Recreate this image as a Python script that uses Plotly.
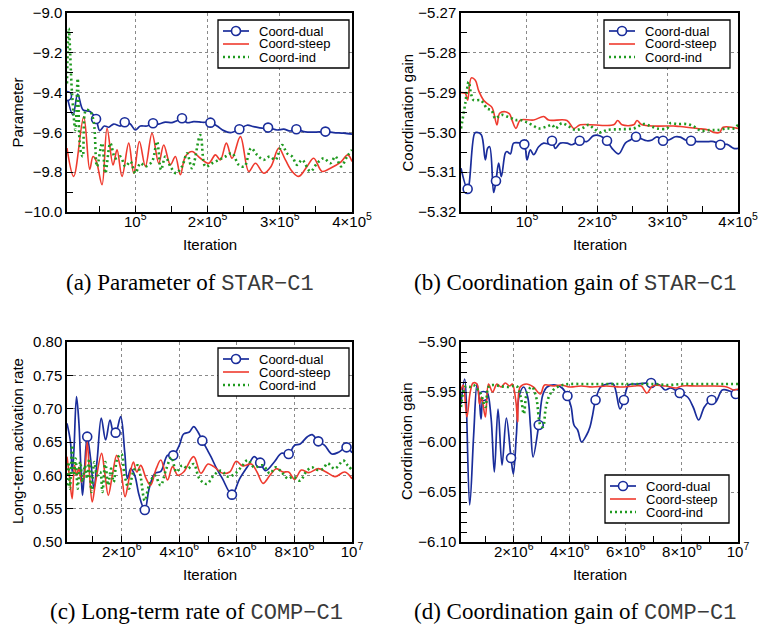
import plotly.graph_objects as go

W, H = 760, 630
BLUE = "#1a2d9b"
RED = "#ef3a2e"
GREEN = "#1f9a1f"
SANS = "Liberation Sans, Arial, Helvetica, sans-serif"
SERIF = "Liberation Serif, Times New Roman, serif"
MONO = "Liberation Mono, Courier New, monospace"

# ---------------- Panel (a): Parameter of STAR-C1 ----------------
a_dual_x = [5500, 13800, 20300, 27700, 37800, 45700, 50800, 57200, 63200, 70100, 79400, 85400, 93200, 100100,
            107100, 116300, 124600, 132400, 141700, 150900, 157800, 164700, 171700, 180900, 192400, 204000,
            213200, 222400, 231700, 244100, 254700, 264000, 275500, 283800, 296300, 305500, 314700, 323000,
            333200, 347000, 363200, 374700, 388600, 400000]
a_dual_y = [-9.417, -9.513, -9.407, -9.487, -9.496, -9.533, -9.591, -9.568, -9.574, -9.558, -9.568, -9.549,
            -9.558, -9.588, -9.568, -9.568, -9.554, -9.558, -9.548, -9.551, -9.541, -9.529, -9.551, -9.546,
            -9.549, -9.551, -9.568, -9.591, -9.601, -9.584, -9.564, -9.571, -9.579, -9.576, -9.588, -9.584,
            -9.593, -9.584, -9.596, -9.599, -9.596, -9.601, -9.604, -9.609]
a_dual_marks = [0, 5, 11, 16, 21, 25, 29, 33, 37, 40]
a_steep_x = [5500, 14770, 28610, 36920, 41540, 46150, 54000, 60920, 69230, 74760, 81690, 90920, 97840, 105700,
             114000, 123200, 132500, 139400, 148600, 155500, 162400, 169400, 178600, 190100, 201700, 210900,
             217800, 226100, 234000, 245500, 257100, 266300, 277800, 288000, 298600, 307800, 317100, 326300,
             337800, 347000, 358600, 370100, 384000, 394100, 400000]
a_steep_y = [-9.679, -9.821, -9.521, -9.785, -9.721, -9.746, -9.863, -9.579, -9.763, -9.688, -9.821, -9.654,
             -9.805, -9.646, -9.771, -9.604, -9.755, -9.663, -9.763, -9.721, -9.813, -9.721, -9.696, -9.730,
             -9.755, -9.713, -9.738, -9.654, -9.730, -9.621, -9.796, -9.755, -9.805, -9.771, -9.679, -9.738,
             -9.796, -9.821, -9.771, -9.730, -9.796, -9.780, -9.751, -9.713, -9.746]
a_ind_x = [5500, 7850, 12460, 17080, 20310, 24000, 27230, 31840, 37840, 42460, 47070, 54000, 58610, 65530,
           72460, 79380, 86300, 93220, 100100, 107100, 114000, 123200, 130100, 135700, 141700, 148600, 156400,
           164800, 171700, 178600, 190100, 197100, 206300, 215500, 224800, 234000, 243200, 251100, 260300,
           268600, 277800, 286100, 294000, 303200, 310100, 317100, 324000, 330900, 342400, 351700, 360900,
           370100, 377000, 384900, 393200, 400000]
a_ind_y = [-9.354, -9.078, -9.404, -9.588, -9.329, -9.688, -9.721, -9.487, -9.496, -9.546, -9.771, -9.654,
           -9.805, -9.654, -9.730, -9.721, -9.771, -9.746, -9.805, -9.755, -9.771, -9.746, -9.646, -9.788,
           -9.721, -9.771, -9.805, -9.771, -9.705, -9.780, -9.613, -9.771, -9.755, -9.738, -9.721, -9.705,
           -9.763, -9.771, -9.679, -9.713, -9.738, -9.721, -9.738, -9.663, -9.705, -9.721, -9.763, -9.738,
           -9.796, -9.755, -9.730, -9.755, -9.721, -9.771, -9.721, -9.688]

# ---------------- Panel (b): Coordination gain of STAR-C1 ----------------
b_dual_x = [6200, 15640, 25600, 28910, 35080, 40760, 44080, 46930, 52610, 55930, 59720, 63520, 69200, 71570,
            76310, 81050, 90530, 96220, 100000, 104750, 109500, 116600, 123700, 130800, 135600, 140300, 147400,
            156900, 164000, 174900, 185300, 194800, 204300, 213800, 220900, 230400, 239800, 247000, 255000,
            261200, 270700, 277800, 284900, 293400, 301500, 310900, 318100, 325200, 333200, 341800, 358300,
            365500, 374900, 384400, 393900, 400000]
b_dual_y = [-5.3090, -5.3142, -5.3002, -5.3000, -5.3006, -5.3069, -5.3040, -5.3036, -5.3151, -5.3122, -5.3077,
            -5.3111, -5.3052, -5.3048, -5.3054, -5.3027, -5.3027, -5.3030, -5.3069, -5.3044, -5.3056, -5.3036,
            -5.3027, -5.3029, -5.3021, -5.3040, -5.3027, -5.3027, -5.3031, -5.3021, -5.3023, -5.3008, -5.3009,
            -5.3021, -5.3040, -5.3054, -5.3027, -5.3019, -5.3011, -5.3015, -5.3021, -5.3019, -5.3011, -5.3021,
            -5.3019, -5.3011, -5.3012, -5.3019, -5.3021, -5.3023, -5.3023, -5.3023, -5.3031, -5.3030, -5.3040,
            -5.3040]
b_dual_marks = [1, 9, 17, 24, 29, 33, 38, 43, 48, 52]
b_steep_x = [6200, 12320, 15640, 20860, 26540, 31280, 38390, 43130, 50240, 57350, 61150, 69200, 75370, 78680,
             84370, 90530, 109500, 123700, 130800, 156900, 166400, 175900, 223300, 228900, 235100, 251700,
             256400, 263500, 308600, 318100, 341800, 358300, 365500, 374000, 378700, 400000]
b_steep_y = [-5.2900, -5.2902, -5.2919, -5.2863, -5.2869, -5.2895, -5.2919, -5.2927, -5.2937, -5.2981, -5.2952,
             -5.2948, -5.2954, -5.2969, -5.2990, -5.2969, -5.2969, -5.2960, -5.2969, -5.2970, -5.2990, -5.2981,
             -5.2981, -5.2970, -5.2981, -5.2981, -5.2970, -5.2981, -5.2984, -5.2985, -5.2990, -5.2994, -5.3000,
             -5.3000, -5.2987, -5.2990]
b_ind_x = [6200, 12320, 17060, 20860, 24170, 33650, 38390, 43130, 49300, 54980, 59720, 64460, 71570, 78680,
           83420, 90530, 97640, 107100, 116600, 128500, 135600, 140300, 149800, 159300, 168700, 178200, 187700,
           194800, 204300, 213800, 232700, 251700, 265900, 275400, 284900, 299100, 303800, 313300, 327500,
           337000, 346500, 360700, 370200, 384400, 393900, 400000]
b_ind_y = [-5.2990, -5.2927, -5.2873, -5.2906, -5.2919, -5.2919, -5.2927, -5.2940, -5.2944, -5.2965, -5.2960,
           -5.2956, -5.2960, -5.2965, -5.2969, -5.2969, -5.2973, -5.2981, -5.2990, -5.2985, -5.2981, -5.2990,
           -5.2977, -5.2985, -5.2994, -5.2990, -5.2981, -5.2990, -5.3000, -5.2994, -5.2992, -5.2990, -5.2979,
           -5.2984, -5.2990, -5.2990, -5.2977, -5.2979, -5.2979, -5.2985, -5.2995, -5.2994, -5.2994, -5.2990,
           -5.2990, -5.2981]

# ---------------- Panel (c): Long-term rate of COMP-C1 ----------------
c_dual_x = [100000, 220900, 279100, 337200, 430200, 511600, 593000, 639500, 709300, 802300, 918600, 1034900,
            1151200, 1290700, 1441900, 1593000, 1709400, 1790800, 1965200, 2104700, 2197700, 2314100, 2453500,
            2604800, 2802400, 2952600, 3151300, 3360600, 3593100, 3790800, 4000000, 4150000, 4350000, 4500000,
            4650000, 4800000, 4950000, 5100000, 5300000, 5500000, 5830000, 6100000, 6400000, 6600000, 6810000,
            7000000, 7300000, 7550000, 7800000, 8000000, 8200000, 8450000, 8620000, 8830000, 9050000, 9300000,
            9550000, 9810000, 10000000]
c_dual_y = [0.678, 0.650, 0.605, 0.635, 0.718, 0.680, 0.600, 0.570, 0.610, 0.658, 0.625, 0.580, 0.625, 0.686,
            0.653, 0.683, 0.665, 0.664, 0.688, 0.635, 0.595, 0.610, 0.600, 0.570, 0.548, 0.580, 0.603, 0.606,
            0.630, 0.630, 0.645, 0.662, 0.665, 0.673, 0.665, 0.652, 0.640, 0.628, 0.610, 0.595, 0.571, 0.595,
            0.615, 0.628, 0.619, 0.607, 0.620, 0.633, 0.632, 0.645, 0.647, 0.658, 0.661, 0.651, 0.645, 0.632,
            0.635, 0.642, 0.634]
c_dual_marks = [9, 17, 24, 29, 35, 40, 44, 48, 53, 57]
c_steep_x = [100000, 180000, 279100, 360500, 440000, 511600, 600000, 700000, 802300, 883700, 976700, 1093000,
             1302300, 1407000, 1534900, 1674400, 1825600, 1965200, 2116300, 2255900, 2407000, 2523300, 2662800,
             2850000, 3000000, 3200000, 3360600, 3593100, 3767000, 3950000, 4150000, 4500000, 4750000, 5000000,
             5200000, 5510000, 5750000, 5980000, 6200000, 6500000, 6700000, 6910000, 7150000, 7370000, 7600000,
             7800000, 8010000, 8240000, 8500000, 8830000, 9100000, 9410000, 9750000, 10000000]
c_steep_y = [0.628, 0.600, 0.565, 0.615, 0.600, 0.612, 0.590, 0.600, 0.650, 0.600, 0.560, 0.590, 0.633, 0.605,
             0.570, 0.600, 0.630, 0.610, 0.568, 0.595, 0.620, 0.605, 0.615, 0.595, 0.585, 0.610, 0.623, 0.593,
             0.613, 0.600, 0.605, 0.628, 0.603, 0.617, 0.613, 0.603, 0.605, 0.621, 0.614, 0.617, 0.605, 0.588,
             0.600, 0.610, 0.605, 0.605, 0.594, 0.608, 0.604, 0.610, 0.605, 0.598, 0.605, 0.595]
c_ind_x = [100000, 150000, 200000, 280000, 340000, 400000, 470000, 560000, 640000, 720000, 800000, 870000,
           950000, 1050000, 1150000, 1250000, 1330000, 1430000, 1530000, 1630000, 1720000, 1850000, 1990000,
           2100000, 2250000, 2400000, 2550000, 2650000, 2800000, 2950000, 3150000, 3350000, 3550000, 3730000,
           3900000, 4100000, 4300000, 4500000, 4700000, 4950000, 5200000, 5450000, 5700000, 5950000, 6200000,
           6380000, 6600000, 6900000, 7150000, 7350000, 7550000, 7780000, 7950000, 8200000, 8400000, 8600000,
           8800000, 9000000, 9150000, 9400000, 9700000, 9850000, 10000000]
c_ind_y = [0.585, 0.620, 0.580, 0.645, 0.600, 0.625, 0.580, 0.620, 0.590, 0.615, 0.595, 0.625, 0.575, 0.620,
           0.600, 0.605, 0.575, 0.620, 0.585, 0.610, 0.590, 0.625, 0.632, 0.600, 0.580, 0.605, 0.615, 0.600,
           0.562, 0.585, 0.600, 0.585, 0.610, 0.627, 0.605, 0.615, 0.610, 0.617, 0.595, 0.587, 0.600, 0.607,
           0.598, 0.603, 0.615, 0.623, 0.612, 0.615, 0.603, 0.612, 0.605, 0.595, 0.598, 0.592, 0.605, 0.612,
           0.608, 0.610, 0.618, 0.610, 0.622, 0.615, 0.608]

# ---------------- Panel (d): Coordination gain of COMP-C1 ----------------
d_dual_x = [120000, 250000, 428600, 571400, 690500, 773800, 833300, 916700, 1047600, 1190000, 1309500, 1440500,
            1583300, 1738100, 1904800, 1988100, 2095200, 2202400, 2357100, 2500000, 2600000, 2690500, 2892900,
            3035700, 3190500, 3488100, 3726200, 3916700, 4050000, 4150000, 4280000, 4420000, 4600000, 4720000,
            4800000, 4920000, 5100000, 5330000, 5550000, 5790000, 5930000, 6100000, 6400000, 6900000, 7200000,
            7400000, 7600000, 7920000, 8200000, 8400000, 8600000, 8800000, 9060000, 9200000, 9440000, 9700000,
            9920000, 10000000]
d_dual_y = [-5.962, -5.937, -6.063, -5.993, -5.942, -5.957, -5.977, -5.954, -5.950, -5.975, -6.030, -5.967,
            -6.023, -5.976, -6.016, -6.032, -5.993, -5.953, -5.945, -5.955, -5.985, -6.015, -5.983, -5.953,
            -5.945, -5.943, -5.946, -5.954, -5.965, -5.983, -5.988, -6.000, -5.993, -5.985, -5.975, -5.958,
            -5.945, -5.942, -5.942, -5.967, -5.958, -5.943, -5.942, -5.941, -5.943, -5.948, -5.946, -5.951,
            -5.955, -5.965, -5.978, -5.965, -5.958, -5.960, -5.948, -5.949, -5.952, -5.951]
d_dual_marks = [7, 14, 22, 27, 35, 40, 43, 47, 52, 56]
d_steep_x = [120000, 200000, 330000, 450000, 550000, 690000, 780000, 850000, 990000, 1100000, 1250000, 1400000,
             1550000, 1700000, 1850000, 1950000, 2080000, 2140000, 2230000, 2450000, 2700000, 2950000, 3100000,
             3400000, 3700000, 4000000, 4400000, 4800000, 5300000, 5800000, 6300000, 6550000, 6750000, 6950000,
             7400000, 7800000, 8000000, 8500000, 9000000, 9600000, 9850000, 10000000]
d_steep_y = [-5.948, -5.943, -5.975, -5.950, -5.941, -5.942, -5.962, -5.955, -5.975, -5.942, -5.950, -5.942,
             -5.945, -5.941, -5.944, -5.942, -5.960, -5.980, -5.945, -5.942, -5.945, -5.952, -5.943, -5.944,
             -5.943, -5.945, -5.944, -5.945, -5.944, -5.945, -5.944, -5.944, -5.951, -5.944, -5.944, -5.946,
             -5.944, -5.944, -5.944, -5.945, -5.948, -5.947]
d_ind_x = [120000, 200000, 300000, 420000, 560000, 700000, 830000, 990000, 1100000, 1250000, 1500000, 1800000,
           2100000, 2250000, 2360000, 2480000, 2650000, 2800000, 2950000, 3040000, 3150000, 3300000, 3500000,
           3750000, 4000000, 4500000, 5000000, 5500000, 6000000, 6500000, 7000000, 7500000, 8000000, 8500000,
           9000000, 9500000, 10000000]
d_ind_y = [-5.965, -5.950, -5.944, -5.945, -5.943, -5.947, -5.952, -5.965, -5.945, -5.943, -5.944, -5.945,
           -5.944, -5.955, -5.972, -5.950, -5.945, -5.955, -5.983, -5.985, -5.965, -5.952, -5.946, -5.943,
           -5.942, -5.942, -5.942, -5.942, -5.942, -5.942, -5.942, -5.943, -5.942, -5.942, -5.942, -5.942,
           -5.942]

# ---------------- Tick labels and texts ----------------
series_names = ["Coord-dual", "Coord-steep", "Coord-ind"]
a_xticks = [100000, 200000, 300000, 400000]
a_xtext = ["10<sup>5</sup>", "2×10<sup>5</sup>", "3×10<sup>5</sup>", "4×10<sup>5</sup>"]
a_xminor = [50000, 150000, 250000, 350000]
a_yticks = [-10.0, -9.8, -9.6, -9.4, -9.2, -9.0]
a_ytext = ["−10.0", "−9.8", "−9.6", "−9.4", "−9.2", "−9.0"]
a_yminor = [-9.9, -9.7, -9.5, -9.3, -9.1]
b_yticks = [-5.32, -5.31, -5.30, -5.29, -5.28, -5.27]
b_ytext = ["−5.32", "−5.31", "−5.30", "−5.29", "−5.28", "−5.27"]
b_yminor = [-5.315, -5.305, -5.295, -5.285, -5.275]
cd_xticks = [2000000, 4000000, 6000000, 8000000, 10000000]
cd_xtext = ["2×10<sup>6</sup>", "4×10<sup>6</sup>", "6×10<sup>6</sup>", "8×10<sup>6</sup>", "10<sup>7</sup>"]
cd_xminor = [1000000, 3000000, 5000000, 7000000, 9000000]
c_yticks = [0.50, 0.55, 0.60, 0.65, 0.70, 0.75, 0.80]
c_ytext = ["0.50", "0.55", "0.60", "0.65", "0.70", "0.75", "0.80"]
d_yticks = [-6.10, -6.05, -6.00, -5.95, -5.90]
d_ytext = ["−6.10", "−6.05", "−6.00", "−5.95", "−5.90"]
d_yminor = [-6.09, -6.08, -6.07, -6.06, -6.04, -6.03, -6.02, -6.01, -5.99, -5.98, -5.97, -5.96,
            -5.94, -5.93, -5.92, -5.91]
x_title = "Iteration"
y_titles = ["Parameter", "Coordination gain", "Long-term activation rate", "Coordination gain"]
captions = [("(a) Parameter of ", "STAR−C1"), ("(b) Coordination gain of ", "STAR−C1"),
            ("(c) Long-term rate of ", "COMP−C1"), ("(d) Coordination gain of ", "COMP−C1")]


def px(p):
    return p / W


def py(p):
    return 1 - p / H


fig = go.Figure()


def add_panel(n, dx, dy, dmk, sx, sy, ix, iy):
    xa = "x" if n == 1 else "x%d" % n
    ya = "y" if n == 1 else "y%d" % n
    common = dict(xaxis=xa, yaxis=ya, showlegend=False, hoverinfo="skip")
    fig.add_trace(go.Scatter(x=dx, y=dy, mode="lines",
                             line=dict(color=BLUE, width=1.7, shape="spline", smoothing=1.0), **common))
    fig.add_trace(go.Scatter(x=[dx[i] for i in dmk], y=[dy[i] for i in dmk], mode="markers",
                             marker=dict(symbol="circle", size=9, color="white",
                                         line=dict(color=BLUE, width=1.6)), **common))
    fig.add_trace(go.Scatter(x=sx, y=sy, mode="lines",
                             line=dict(color=RED, width=1.6, shape="spline", smoothing=1.0), **common))
    fig.add_trace(go.Scatter(x=ix, y=iy, mode="lines",
                             line=dict(color=GREEN, width=2.6, dash="2px,3px", shape="spline", smoothing=1.0),
                             **common))


add_panel(1, a_dual_x, a_dual_y, a_dual_marks, a_steep_x, a_steep_y, a_ind_x, a_ind_y)
add_panel(2, b_dual_x, b_dual_y, b_dual_marks, b_steep_x, b_steep_y, b_ind_x, b_ind_y)
add_panel(3, c_dual_x, c_dual_y, c_dual_marks, c_steep_x, c_steep_y, c_ind_x, c_ind_y)
add_panel(4, d_dual_x, d_dual_y, d_dual_marks, d_steep_x, d_steep_y, d_ind_x, d_ind_y)


def axis(dom, rng, tv, tt, minor, anchor, is_x):
    d = dict(
        domain=dom, range=rng, anchor=anchor, autorange=False,
        tickmode="array", tickvals=tv, ticktext=tt,
        ticks="inside", ticklen=6, tickwidth=1.2, tickcolor="black",
        showline=True, linecolor="black", linewidth=1.5, mirror=True,
        showgrid=True, gridcolor="#8a8a8a", griddash="dot", gridwidth=1,
        zeroline=False, tickfont=dict(family=SANS, size=15, color="black"),
        automargin=False,
    )
    if is_x:
        d["ticklabelstandoff"] = -5
    if minor:
        d["minor"] = dict(tickmode="array", tickvals=minor, ticks="inside", ticklen=6,
                          tickwidth=1.2, tickcolor="black", showgrid=False)
    return d


colL = [px(67), px(352)]
colR = [px(461), px(738)]
rowT = [py(212), py(13)]
rowB = [py(542), py(342)]

fig.update_layout(
    xaxis=axis(colL, [5500, 400000], a_xticks, a_xtext, a_xminor, "y", True),
    yaxis=axis(rowT, [-10.0, -9.0], a_yticks, a_ytext, a_yminor, "x", False),
    xaxis2=axis(colR, [6200, 400000], a_xticks, a_xtext, a_xminor, "y2", True),
    yaxis2=axis(rowT, [-5.32, -5.27], b_yticks, b_ytext, b_yminor, "x2", False),
    xaxis3=axis(colL, [100000, 10000000], cd_xticks, cd_xtext, cd_xminor, "y3", True),
    yaxis3=axis(rowB, [0.50, 0.80], c_yticks, c_ytext, None, "x3", False),
    xaxis4=axis(colR, [120000, 10000000], cd_xticks, cd_xtext, cd_xminor, "y4", True),
    yaxis4=axis(rowB, [-6.10, -5.90], d_yticks, d_ytext, d_yminor, "x4", False),
)

shapes = []
annotations = []

# axis titles
for cx, cy in [(209.5, 245), (599.5, 245), (209.5, 574), (599.5, 574)]:
    annotations.append(dict(text=x_title, xref="paper", yref="paper", x=px(cx), y=py(cy),
                            xanchor="center", yanchor="middle", showarrow=False,
                            font=dict(family=SANS, size=15, color="black")))
for (cx, cy), t in zip([(17, 112.5), (407, 112.5), (17, 441), (406, 441)], y_titles):
    annotations.append(dict(text=t, xref="paper", yref="paper", x=px(cx), y=py(cy), textangle=-90,
                            xanchor="center", yanchor="middle", showarrow=False,
                            font=dict(family=SANS, size=15, color="black")))


def add_legend(L, T, R):
    shapes.append(dict(type="rect", xref="paper", yref="paper", x0=px(L), x1=px(R), y0=py(T), y1=py(T + 48),
                       line=dict(color="black", width=1.3), fillcolor="white", layer="above"))
    rows = [T + 11, T + 24, T + 37]
    styles = [dict(color=BLUE, width=1.7), dict(color=RED, width=1.6), dict(color=GREEN, width=2.6, dash="2px,3px")]
    for r, st, name in zip(rows, styles, series_names):
        shapes.append(dict(type="line", xref="paper", yref="paper", x0=px(L + 5), x1=px(L + 31),
                           y0=py(r), y1=py(r), line=st, layer="above"))
        annotations.append(dict(text=name, xref="paper", yref="paper", x=px(L + 40), y=py(r),
                                xanchor="left", yanchor="middle", showarrow=False, borderpad=0,
                                font=dict(family=SANS, size=13, color="black")))
    shapes.append(dict(type="circle", xref="paper", yref="paper", x0=px(L + 18 - 4.5), x1=px(L + 18 + 4.5),
                       y0=py(rows[0] + 4.5), y1=py(rows[0] - 4.5), fillcolor="white",
                       line=dict(color=BLUE, width=1.6), layer="above"))


add_legend(218, 20, 349)
add_legend(604, 20, 730)
add_legend(218, 348, 349)
add_legend(605, 475, 729)

for (cx, cy), (lead, code) in zip([(190, 284), (575, 284), (196, 612), (575, 612)], captions):
    txt = lead + "<span style='font-family:Liberation Mono, Courier New, monospace;font-size:22px;color:#3a3a3a'>" \
          + code + "</span>"
    annotations.append(dict(text=txt, xref="paper", yref="paper", x=px(cx), y=py(cy),
                            xanchor="center", yanchor="middle", showarrow=False,
                            font=dict(family=SERIF, size=23, color="black")))

fig.update_layout(
    width=W, height=H, margin=dict(l=0, r=0, t=0, b=0),
    paper_bgcolor="white", plot_bgcolor="white",
    font=dict(family=SANS, size=15, color="black"),
    showlegend=False, template="none",
    shapes=shapes, annotations=annotations,
)

fig.write_html("out.html", config={"displayModeBar": False},
               post_script="document.body.style.margin='0px';document.body.style.overflow='hidden';")
